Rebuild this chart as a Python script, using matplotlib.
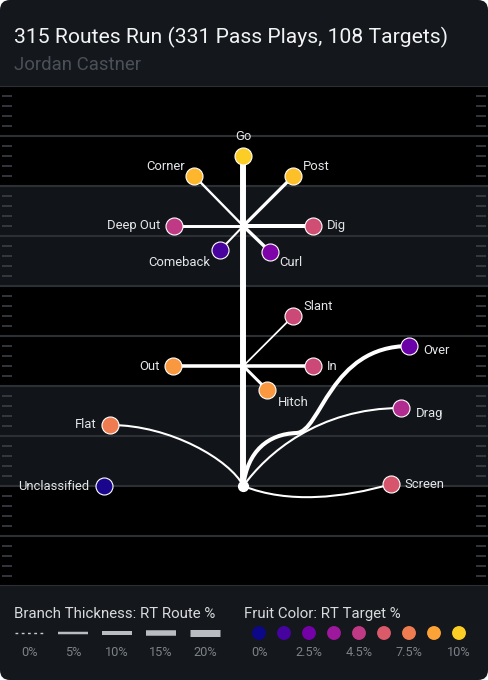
import numpy as np
import matplotlib
matplotlib.use("Agg")
import matplotlib.pyplot as plt
from matplotlib.patches import FancyBboxPatch, PathPatch
from matplotlib.path import Path
from matplotlib.colors import ListedColormap, Normalize

plt.rcParams['font.family'] = ['Roboto', 'DejaVu Sans']

title = "315 Routes Run (331 Pass Plays, 108 Targets)"
player = "Jordan Castner"

routes = ["Go", "Post", "Corner", "Deep Out", "Dig", "Comeback", "Curl",
          "Slant", "Out", "In", "Hitch", "Over", "Drag", "Screen", "Flat",
          "Unclassified"]
route_pct = [16.5, 7.5, 4.5, 6.5, 10.0, 3.5, 8.0,
             2.5, 8.5, 8.5, 6.5, 10.0, 3.5, 3.5, 3.5,
             0.0]
target_pct = [10.0, 9.6, 9.3, 5.0, 5.8, 1.3, 2.8,
              5.6, 8.4, 5.6, 8.4, 2.2, 4.5, 6.1, 7.5,
              0.2]

thick_ticks = [0, 5, 10, 15, 20]
thick_labels = ["0%", "5%", "10%", "15%", "20%"]
color_ticks = [0, 1.25, 2.5, 3.75, 5, 6.25, 7.5, 8.75, 10]
color_labels = ["0%", "", "2.5%", "", "4.5%", "", "7.5%", "", "10%"]

# route shapes in yards (lateral, depth from the snap)
shapes = {
    "Go": ("line", [(0, 0), (0, 33)]),
    "Post": ("line", [(0, 26), (5, 31)]),
    "Corner": ("line", [(0, 26), (-4.9, 31)]),
    "Deep Out": ("line", [(0, 26), (-6.9, 26)]),
    "Dig": ("line", [(0, 26), (7, 26)]),
    "Comeback": ("line", [(0, 26), (-2.3, 23.6)]),
    "Curl": ("line", [(0, 26), (2.7, 23.4)]),
    "Slant": ("line", [(0, 12), (5, 17)]),
    "Out": ("line", [(0, 12), (-7, 12)]),
    "In": ("line", [(0, 12), (7, 12)]),
    "Hitch": ("line", [(0, 12), (2.4, 9.6)]),
    "Over": ("curve", [(0, 0), (0.4, 3.5), (2.5, 5.2), (5.3, 5.3),
                       (7.8, 5.4), (8.6, 14), (16.6, 14)]),
    "Drag": ("curve", [(0, 0), (2.3, 3.2), (7.5, 7.8), (15.8, 7.8)]),
    "Screen": ("curve", [(0, 0), (4.5, -1.8), (10, -1.2), (14.8, 0.2)]),
    "Flat": ("curve", [(0, 0), (-1.3, 2.6), (-7.3, 6.1), (-13.3, 6.1)]),
    "Unclassified": ("none", [(-13.9, 0)]),
}

# label offsets in pixels and alignment
label_pos = {
    "Go": (0, 19, "center"), "Post": (10, 10, "left"),
    "Corner": (-9, 10, "right"), "Deep Out": (-14, 0, "right"),
    "Dig": (14, 0, "left"), "Comeback": (-10, -12, "right"),
    "Curl": (9, -11, "left"), "Slant": (10, 10, "left"),
    "Out": (-14, 0, "right"), "In": (14, 0, "left"),
    "Hitch": (11, -12, "left"), "Over": (14, -5, "left"),
    "Drag": (15, -5, "left"), "Screen": (13, 0, "left"),
    "Flat": (-14, 0, "right"), "Unclassified": (-15, 0, "right"),
}

cmap = ListedColormap(plt.get_cmap("plasma")(np.linspace(0, 0.9, 256)))
norm = Normalize(0, 10)


def width_pt(pct):
    return (1 + 0.3 * pct) * 0.72


fig = plt.figure(figsize=(4.88, 6.8), dpi=100, facecolor="white")

# card + text layer in pixel coords
bg = fig.add_axes([0, 0, 1, 1])
bg.set_xlim(0, 488)
bg.set_ylim(680, 0)
bg.axis("off")
bg.add_patch(FancyBboxPatch((0, 0), 488, 680, boxstyle="round,pad=0,rounding_size=10",
                            fc="#14171b", ec="none"))
bg.text(14, 43, title, color="#f2f3f4", fontsize=15.2, va="baseline")
bg.text(14, 70, player, color="#4b5058", fontsize=13.4, va="baseline")

# field in yards
ax = fig.add_axes([0, 94 / 680, 1, 500 / 680], zorder=2)
ax.set_xlim(-24.33, 24.47)
ax.set_ylim(-10, 40)
ax.set_facecolor("black")
ax.axis("off")
ax.add_patch(plt.Rectangle((-24.33, -10), 48.8, 50, fc="black", ec="none", zorder=0))
for lo in [0, 20]:
    ax.axhspan(lo, lo + 10, color="#111418", zorder=0.5, lw=0)
for yd in range(-10, 41, 5):
    ax.axhline(yd, color="#2c3035", lw=1.5, zorder=1)
small = [yd for yd in range(-10, 40) if yd % 5 != 0]
ax.hlines(small, -24.33 + 0.25, -24.33 + 1.2, color="#3c4046", lw=1.2, zorder=1)
ax.hlines(small, 24.47 - 1.2, 24.47 - 0.25, color="#3c4046", lw=1.2, zorder=1)

for name, pct, tgt in zip(routes, route_pct, target_pct):
    kind, pts = shapes[name]
    if kind == "line":
        xs, ys = zip(*pts)
        ax.plot(xs, ys, color="white", lw=width_pt(pct), solid_capstyle="round", zorder=3)
    elif kind == "curve":
        codes = [Path.MOVETO] + [Path.CURVE4] * (len(pts) - 1)
        ax.add_patch(PathPatch(Path(pts, codes), fc="none", ec="white",
                               lw=width_pt(pct), capstyle="round", zorder=3))
    ex, ey = pts[-1]
    ax.scatter([ex], [ey], s=150, color=cmap(norm(tgt)), edgecolors="white",
               linewidths=0.8, zorder=5)
    dx, dy, ha = label_pos[name]
    ax.annotate(name, (ex, ey), xytext=(dx, dy), textcoords="offset pixels",
                ha=ha, va="center", color="#e4e6e9", fontsize=9.4, zorder=6)

ax.scatter([0], [0], s=50, color="white", zorder=6)

# legends
bg.text(14, 618, "Branch Thickness: RT Route %", color="#d8dadd", fontsize=10.8, va="baseline")
bg.text(244, 618, "Fruit Color: RT Target %", color="#d8dadd", fontsize=10.8, va="baseline")
lx = [29, 73, 117, 161, 205]
for x, pct, lab in zip(lx, thick_ticks, thick_labels):
    if pct == 0:
        bg.plot([x - 14, x + 14], [633, 633], color="#c8ccd0", lw=1, ls=(0, (2, 2.5)))
    else:
        bg.plot([x - 15, x + 15], [633, 633], color="#b9bdc2", lw=width_pt(pct),
                solid_capstyle="butt")
    bg.text(x, 656, lab, color="#7d8289", fontsize=9.2, ha="center", va="baseline")
cx = np.linspace(259, 459, len(color_ticks))
bg.scatter(cx, [633] * len(cx), s=100, c=[cmap(norm(v)) for v in color_ticks], lw=0)
for x, lab in zip(cx, color_labels):
    if lab:
        bg.text(x, 656, lab, color="#7d8289", fontsize=9.2, ha="center", va="baseline")

fig.savefig("out.png", dpi=100, facecolor="white")
